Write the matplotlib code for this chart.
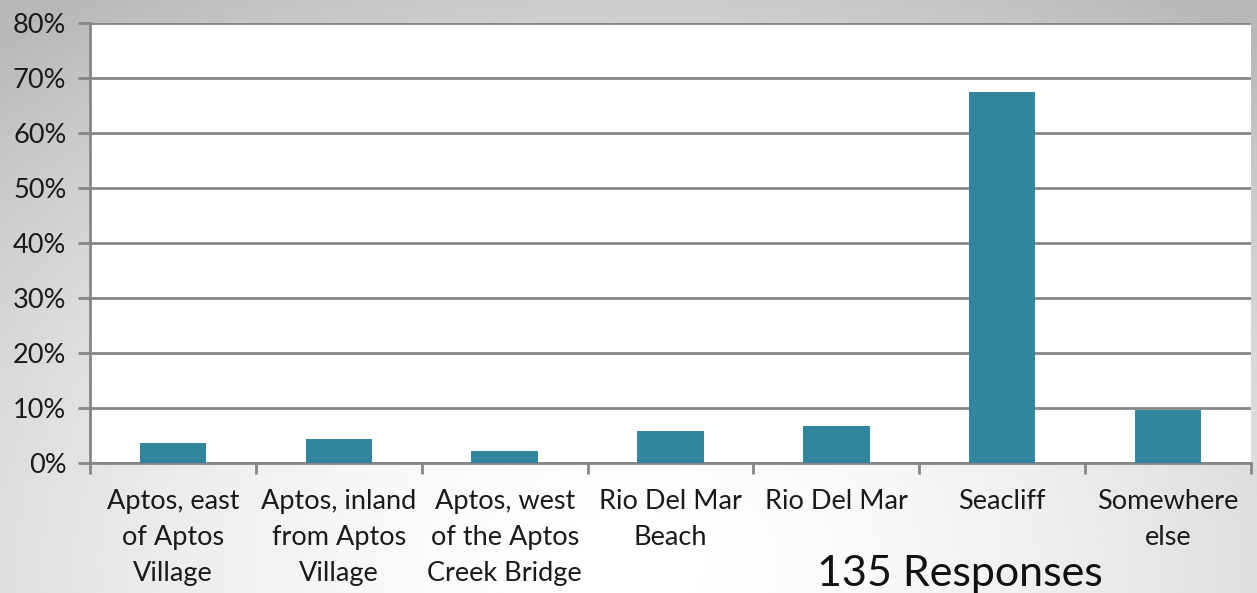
import numpy as np
import matplotlib
matplotlib.use("Agg")
import matplotlib.pyplot as plt
from matplotlib.ticker import FuncFormatter, FixedLocator

# Data
categories = ["Aptos, east\nof Aptos\nVillage", "Aptos, inland\nfrom Aptos\nVillage",
              "Aptos, west\nof the Aptos\nCreek Bridge", "Rio Del Mar\nBeach",
              "Rio Del Mar", "Seacliff", "Somewhere\nelse"]
shares = [3.7, 4.4, 2.2, 5.9, 6.7, 67.4, 9.6]
y_ticks = [0, 10, 20, 30, 40, 50, 60, 70, 80]
footer = "135 Responses"

plt.rcParams['font.family'] = ['Lato', 'DejaVu Sans']

fig = plt.figure(figsize=(12.57, 5.93), dpi=100)

# radial grey background
bg = fig.add_axes([0, 0, 1, 1])
yy, xx = np.mgrid[0:1:300j, 0:1:600j]
r = np.sqrt(((xx - 0.5) / 0.75) ** 2 + ((yy - 0.95) / 1.1) ** 2)
shade = np.clip(1.0 - 0.26 * r ** 1.7, 0.72, 1.0)
bg.imshow(shade, cmap='gray', vmin=0, vmax=1, extent=[0, 1, 0, 1], aspect='auto', origin='upper')
bg.set_axis_off()

ax = fig.add_axes([90 / 1257, 1 - 463 / 593, (1251 - 90) / 1257, (463 - 23) / 593])
ax.set_facecolor('white')
x = np.arange(len(categories))
ax.bar(x, shares, width=0.4, color='#31859C', zorder=3)

ax.set_xlim(-0.5, len(categories) - 0.5)
ax.set_ylim(0, 80)
ax.set_yticks(y_ticks)
ax.yaxis.set_major_formatter(FuncFormatter(lambda v, p: f"{v:.0f}%"))
ax.grid(axis='y', color='#868686', linewidth=2, zorder=1)

ax.xaxis.set_major_locator(FixedLocator(np.arange(-0.5, len(categories), 1.0)))
ax.xaxis.set_major_formatter(FuncFormatter(lambda v, p: ""))
ax.set_xticks(x, minor=True)
ax.set_xticklabels(categories, minor=True, fontsize=19.5, color='#1a1a1a', linespacing=1.55, va='top')
ax.tick_params(axis='x', which='minor', length=0, pad=19)
ax.tick_params(axis='x', which='major', length=8, width=2, color='#868686', direction='out')
ax.tick_params(axis='y', length=9, width=2, color='#868686', labelsize=19.5, labelcolor='#1a1a1a', pad=8)

for side in ['top', 'right']:
    ax.spines[side].set_visible(False)
for side in ['left', 'bottom']:
    ax.spines[side].set_color('#868686')
    ax.spines[side].set_linewidth(2)

fig.text(960 / 1257, 1 - 574 / 593, footer, fontsize=31, ha='center', va='center', color='#111111')

fig.savefig("out.png", dpi=100)
